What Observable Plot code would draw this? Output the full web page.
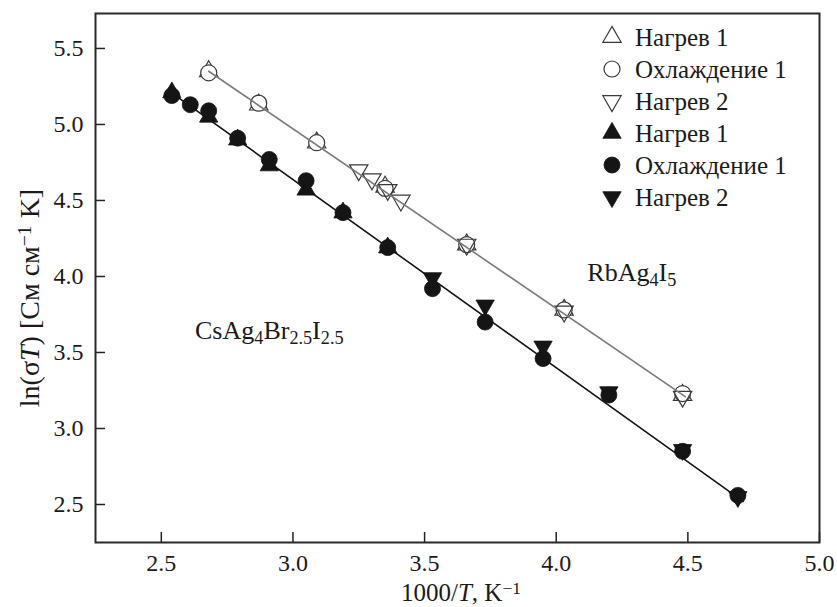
<!DOCTYPE html>
<html>
<head>
<meta charset="utf-8">
<script src="https://cdn.jsdelivr.net/npm/d3@7"></script>
<script src="https://cdn.jsdelivr.net/npm/@observablehq/plot@0.6"></script>
<style>
  body { margin: 0; background: #fff; }
  #chart { width: 837px; height: 607px; }
</style>
</head>
<body>
<div id="chart"></div>
<script>
// RbAg4I5 — open symbols
const rbHeat1X = [2.68, 2.87, 3.09, 3.35, 3.66, 4.03, 4.48];
const rbHeat1Y = [5.35, 5.13, 4.88, 4.59, 4.21, 3.78, 3.22];
const rbCool1X = [2.68, 2.87, 3.09, 3.35, 3.66, 4.03, 4.48];
const rbCool1Y = [5.34, 5.14, 4.88, 4.58, 4.21, 3.78, 3.23];
const rbHeat2X = [3.25, 3.30, 3.36, 3.41, 3.66, 4.03, 4.48];
const rbHeat2Y = [4.70, 4.64, 4.57, 4.50, 4.21, 3.77, 3.21];
const rbFitX = [2.68, 4.49];
const rbFitY = [5.35, 3.21];

// CsAg4Br2.5I2.5 — filled symbols
const csHeat1X = [2.54, 2.68, 2.79, 2.91, 3.05, 3.19, 3.36];
const csHeat1Y = [5.21, 5.05, 4.90, 4.73, 4.57, 4.42, 4.19];
const csCool1X = [2.54, 2.61, 2.68, 2.79, 2.91, 3.05, 3.19, 3.36, 3.53, 3.73, 3.95, 4.20, 4.48, 4.69];
const csCool1Y = [5.19, 5.13, 5.09, 4.91, 4.77, 4.63, 4.42, 4.19, 3.92, 3.70, 3.46, 3.22, 2.85, 2.56];
const csHeat2X = [3.53, 3.73, 3.95, 4.20, 4.48, 4.69];
const csHeat2Y = [3.99, 3.81, 3.54, 3.24, 2.86, 2.55];
const csFitX = [2.53, 4.71];
const csFitY = [5.22, 2.52];

// axes
const xTicks = [2.5, 3.0, 3.5, 4.0, 4.5, 5.0];
const yTicks = [2.5, 3.0, 3.5, 4.0, 4.5, 5.0, 5.5];
const xDomain = [2.25, 5.0];
const yDomain = [2.25, 5.73];

// legend entries
const legendLabels = ["Нагрев 1", "Охлаждение 1", "Нагрев 2", "Нагрев 1", "Охлаждение 1", "Нагрев 2"];
const legendSymbols = ["triangle", "circle", "triangle-down", "triangle", "circle", "triangle-down"];
const legendFilled = [false, false, false, true, true, true];

const SERIF = "'Liberation Serif', 'Times New Roman', 'DejaVu Serif', serif";
const OPEN = "#3a3a3a";
const FILLED = "#151515";
const R_CIRCLE = 8;
const R_TRI = 6.8;

const pts = (xs, ys) => xs.map((x, i) => ({x, y: ys[i]}));

const openStyle = {stroke: OPEN, strokeWidth: 1.2, fill: "white"};
const filledStyle = {stroke: FILLED, strokeWidth: 0.8, fill: FILLED};

const plot = Plot.plot({
  width: 837,
  height: 607,
  marginLeft: 95,
  marginRight: 18,
  marginTop: 13,
  marginBottom: 65,
  style: {fontFamily: SERIF, fontSize: "24px", color: "#1a1a1a", background: "white"},
  x: {domain: xDomain},
  y: {domain: yDomain},
  marks: [
    // tick labels
    Plot.axisX(xTicks, {tickSize: 0, tickPadding: 11, tickFormat: d => d.toFixed(1), label: null, fontSize: 24, fontFamily: SERIF}),
    Plot.axisY(yTicks, {tickSize: 0, tickPadding: 12, tickFormat: d => d.toFixed(1), label: null, fontSize: 24, fontFamily: SERIF}),
    // inward tick marks
    Plot.axisX(xTicks, {tickSize: 10, dy: -10, tickFormat: () => "", label: null, stroke: "#222", strokeWidth: 1.5}),
    Plot.axisY(yTicks, {tickSize: 10, dx: 10, tickFormat: () => "", label: null, stroke: "#222", strokeWidth: 1.5}),

    // CsAg4Br2.5I2.5
    Plot.dot(pts(csHeat1X, csHeat1Y), {x: "x", y: "y", symbol: "triangle", r: R_TRI, ...filledStyle}),
    Plot.dot(pts(csCool1X, csCool1Y), {x: "x", y: "y", symbol: "circle", r: R_CIRCLE, ...filledStyle}),
    Plot.dot(pts(csHeat2X, csHeat2Y), {x: "x", y: "y", symbol: "triangle", rotate: 180, r: R_TRI, ...filledStyle}),
    Plot.line(pts(csFitX, csFitY), {x: "x", y: "y", stroke: FILLED, strokeWidth: 1.6}),

    // RbAg4I5
    Plot.dot(pts(rbHeat1X, rbHeat1Y), {x: "x", y: "y", symbol: "triangle", r: R_TRI, ...openStyle}),
    Plot.dot(pts(rbCool1X, rbCool1Y), {x: "x", y: "y", symbol: "circle", r: R_CIRCLE, ...openStyle}),
    Plot.dot(pts(rbHeat2X, rbHeat2Y), {x: "x", y: "y", symbol: "triangle", rotate: 180, r: R_TRI, ...openStyle, fill: "none"}),
    Plot.line(pts(rbFitX, rbFitY), {x: "x", y: "y", stroke: "#7a7a7a", strokeWidth: 1.6}),

    Plot.frame({stroke: "#2a2a2a", strokeWidth: 2})
  ]
});

document.getElementById("chart").appendChild(plot);

const svg = d3.select(plot);
const sx = plot.scale("x");
const sy = plot.scale("y");

// rich text helper: parts are [text, style] where style is "", "i", "sub", "sup"
function richText(g, parts, size, anchor = "start") {
  const t = g.append("text")
    .attr("font-family", SERIF).attr("font-size", size)
    .attr("fill", "#1a1a1a").attr("text-anchor", anchor);
  for (const [s, kind] of parts) {
    const ts = t.append("tspan").text(s);
    if (kind === "i") ts.attr("font-style", "italic");
    if (kind === "sub") ts.attr("font-size", size * 0.7).attr("baseline-shift", "-25%");
    if (kind === "sup") ts.attr("font-size", size * 0.7).attr("baseline-shift", "40%");
  }
  return t;
}

// compound names
const rbLabelAt = {x: 4.12, y: 3.97};
const csLabelAt = {x: 2.63, y: 3.585};
richText(svg, [["RbAg", ""], ["4", "sub"], ["I", ""], ["5", "sub"]], 26)
  .attr("x", sx.apply(rbLabelAt.x)).attr("y", sy.apply(rbLabelAt.y));
richText(svg, [["CsAg", ""], ["4", "sub"], ["Br", ""], ["2.5", "sub"], ["I", ""], ["2.5", "sub"]], 26)
  .attr("x", sx.apply(csLabelAt.x)).attr("y", sy.apply(csLabelAt.y));

// axis titles
richText(svg, [["1000/", ""], ["T", "i"], [", K", ""], ["−1", "sup"]], 25, "middle")
  .attr("x", 461).attr("y", 601);
richText(svg, [["ln(σ", ""], ["T", "i"], [") [См см", ""], ["−1", "sup"], [" K]", ""]], 28, "middle")
  .attr("transform", "translate(39,298) rotate(-90)");

// legend
const lg = svg.append("g").attr("transform", "translate(612,37)");
legendLabels.forEach((label, i) => {
  const row = lg.append("g").attr("transform", `translate(0,${i * 32})`);
  const kind = legendSymbols[i];
  const r = kind === "circle" ? R_CIRCLE : R_TRI;
  const sym = kind === "circle" ? d3.symbolCircle : d3.symbolTriangle;
  row.append("path")
    .attr("d", d3.symbol(sym, Math.PI * r * r)())
    .attr("transform", kind === "triangle-down" ? "rotate(180)" : null)
    .attr("fill", legendFilled[i] ? FILLED : "white")
    .attr("stroke", legendFilled[i] ? FILLED : OPEN)
    .attr("stroke-width", legendFilled[i] ? 0.8 : 1.2);
  row.append("text")
    .attr("x", 23).attr("dy", "0.35em").attr("text-anchor", "start")
    .attr("font-family", SERIF).attr("font-size", 25).attr("fill", "#1a1a1a")
    .text(label);
});
</script>
</body>
</html>
